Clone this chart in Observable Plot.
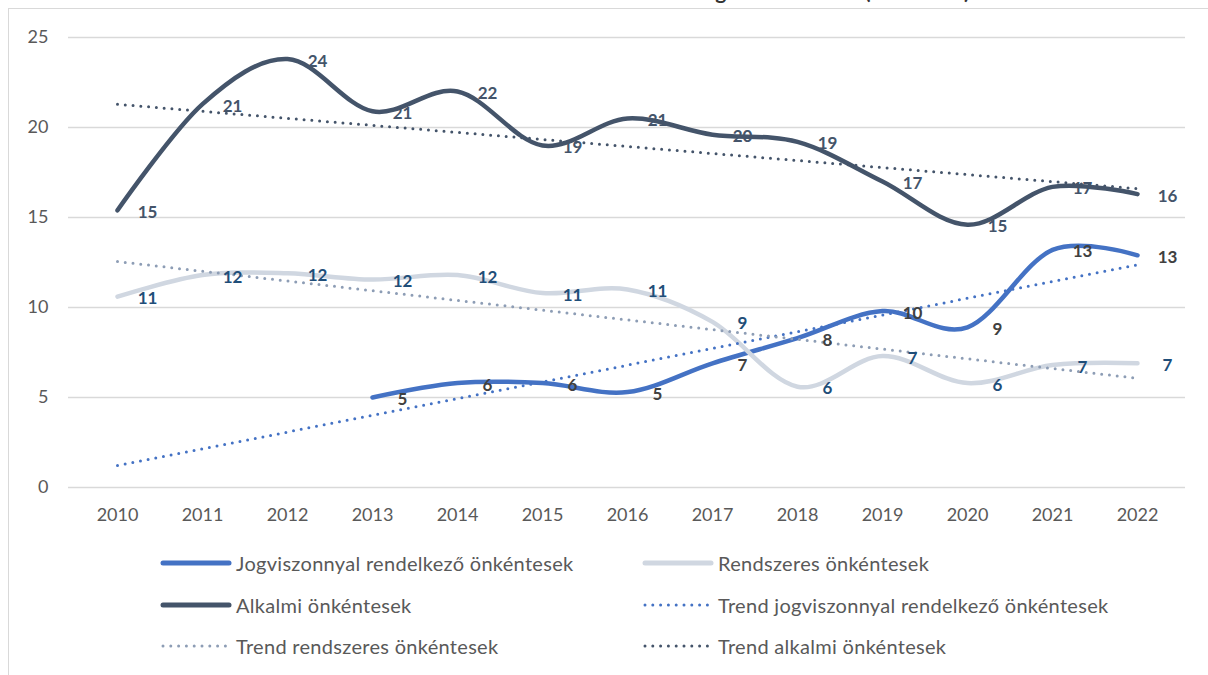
<!DOCTYPE html>
<html>
<head>
<meta charset="utf-8">
<script src="https://cdn.jsdelivr.net/npm/d3@7"></script>
<script src="https://cdn.jsdelivr.net/npm/@observablehq/plot@0.6"></script>
<style>
  html, body { margin: 0; padding: 0; background: #fff; }
  #wrap { position: relative; width: 1208px; height: 675px; overflow: hidden; font-family: Lato, "Open Sans", sans-serif; }
  #frame { position: absolute; left: 8px; top: 8px; right: -10px; bottom: -10px; border-left: 1.5px solid #d9d9d9; border-top: 1.5px solid #d9d9d9; }
  #title { position: absolute; left: 26px; width: 1253px; top: -19px; text-align: center; font-size: 21px; font-weight: bold; color: #333; line-height: 20px; white-space: nowrap; }
  #chart { position: absolute; left: 0; top: 0; }
  .leg { position: absolute; display: flex; align-items: center; font-size: 20px; letter-spacing: 0.3px; color: #595959; white-space: nowrap; }
  .leg svg { margin-right: 4px; }
</style>
</head>
<body>
<div id="wrap">
  <div id="frame"></div>
  <div id="title">Az önkéntesek számának alakulása a vizsgált időszakban (ezer fő/év)</div>
  <div id="chart"></div>
  <div id="legend"></div>
</div>
<script>
// ---- data ----
const years = [2010, 2011, 2012, 2013, 2014, 2015, 2016, 2017, 2018, 2019, 2020, 2021, 2022];
const jogviszonnyal = [null, null, null, 5.0, 5.8, 5.8, 5.3, 6.9, 8.3, 9.8, 8.9, 13.2, 12.9];
const rendszeres = [10.6, 11.8, 11.9, 11.55, 11.8, 10.8, 11.0, 9.2, 5.6, 7.3, 5.8, 6.8, 6.9];
const alkalmi = [15.4, 21.3, 23.8, 20.9, 22.0, 19.0, 20.5, 19.6, 19.2, 17.0, 14.6, 16.7, 16.3];
const yTicks = [0, 5, 10, 15, 20, 25];
const seriesNames = [
  "Jogviszonnyal rendelkező önkéntesek",
  "Rendszeres önkéntesek",
  "Alkalmi önkéntesek",
  "Trend jogviszonnyal rendelkező önkéntesek",
  "Trend rendszeres önkéntesek",
  "Trend alkalmi önkéntesek"
];

const colors = {
  jog: "#4472C4", rend: "#D0D7E1", alk: "#44546A",
  jogT: "#4472C4", rendT: "#8D9DB5", alkT: "#44546A",
  jogLab: "#404040", rendLab: "#1F4E79", alkLab: "#44546A"
};

const rows = vals => years.map((year, i) => ({year, value: vals[i]})).filter(d => d.value != null);

// Linear least-squares trend (like the spreadsheet trendline), drawn across all years
function trend(vals) {
  const pts = vals.map((v, i) => [i, v]).filter(d => d[1] != null);
  const mx = d3.mean(pts, d => d[0]), my = d3.mean(pts, d => d[1]);
  const b = d3.sum(pts, d => (d[0] - mx) * (d[1] - my)) / d3.sum(pts, d => (d[0] - mx) ** 2);
  return years.map((year, i) => ({year, value: my + b * (i - mx)}));
}

const jogRows = rows(jogviszonnyal), rendRows = rows(rendszeres), alkRows = rows(alkalmi);

const lineOpts = (c) => ({x: "year", y: "value", stroke: c, strokeWidth: 4.5, curve: "cardinal"});
const trendOpts = (c) => ({x: "year", y: "value", stroke: c, strokeWidth: 3, strokeDasharray: "0 7.8", strokeLinecap: "round"});
const labOpts = (c) => ({x: "year", y: "value", text: d => String(Math.round(d.value)), dx: 30, dy: 2,
  fill: c, fontWeight: "bold", fontSize: 17, textAnchor: "middle"});

const chart = Plot.plot({
  width: 1208,
  height: 540,
  marginTop: 37,
  marginBottom: 53,
  marginLeft: 68,
  marginRight: 23,
  style: {fontFamily: "Lato, 'Open Sans', sans-serif", fontSize: "18px", color: "#595959", background: "transparent", overflow: "visible"},
  x: {type: "point", domain: years, padding: 0.5, label: null},
  y: {domain: [0, 25], label: null},
  marks: [
    Plot.ruleY(yTicks, {stroke: "#d9d9d9", strokeWidth: 1.4}),
    Plot.axisY({ticks: yTicks, tickSize: 0, tickPadding: 20, fontSize: 18, fill: "#595959", label: null}),
    Plot.axisX({tickSize: 0, tickPadding: 21, fontSize: 18, fill: "#595959", tickFormat: d => String(d), label: null}),
    Plot.line(jogRows, lineOpts(colors.jog)),
    Plot.line(rendRows, lineOpts(colors.rend)),
    Plot.line(alkRows, lineOpts(colors.alk)),
    Plot.line(trend(jogviszonnyal), trendOpts(colors.jogT)),
    Plot.line(trend(rendszeres), trendOpts(colors.rendT)),
    Plot.line(trend(alkalmi), trendOpts(colors.alkT)),
    Plot.text(jogRows, labOpts(colors.jogLab)),
    Plot.text(rendRows, labOpts(colors.rendLab)),
    Plot.text(alkRows, labOpts(colors.alkLab))
  ]
});
document.getElementById("chart").appendChild(chart);

// ---- legend ----
const legendItems = [
  {name: seriesNames[0], color: colors.jog, dotted: false, left: 160, top: 563},
  {name: seriesNames[1], color: colors.rend, dotted: false, left: 642, top: 563},
  {name: seriesNames[2], color: colors.alk, dotted: false, left: 160, top: 605},
  {name: seriesNames[3], color: colors.jogT, dotted: true, left: 642, top: 605},
  {name: seriesNames[4], color: colors.rendT, dotted: true, left: 160, top: 646},
  {name: seriesNames[5], color: colors.alkT, dotted: true, left: 642, top: 646}
];
const leg = document.getElementById("legend");
for (const it of legendItems) {
  const div = document.createElement("div");
  div.className = "leg";
  div.style.left = it.left + "px";
  div.style.top = (it.top - 12) + "px";
  div.style.height = "24px";
  const sw = it.dotted
    ? `<svg width="72" height="10"><line x1="3" y1="5" x2="68" y2="5" stroke="${it.color}" stroke-width="3" stroke-linecap="round" stroke-dasharray="0 7.8"/></svg>`
    : `<svg width="72" height="10"><line x1="3" y1="5" x2="69" y2="5" stroke="${it.color}" stroke-width="5" stroke-linecap="round"/></svg>`;
  div.innerHTML = sw + `<span>${it.name}</span>`;
  leg.appendChild(div);
}
</script>
</body>
</html>
